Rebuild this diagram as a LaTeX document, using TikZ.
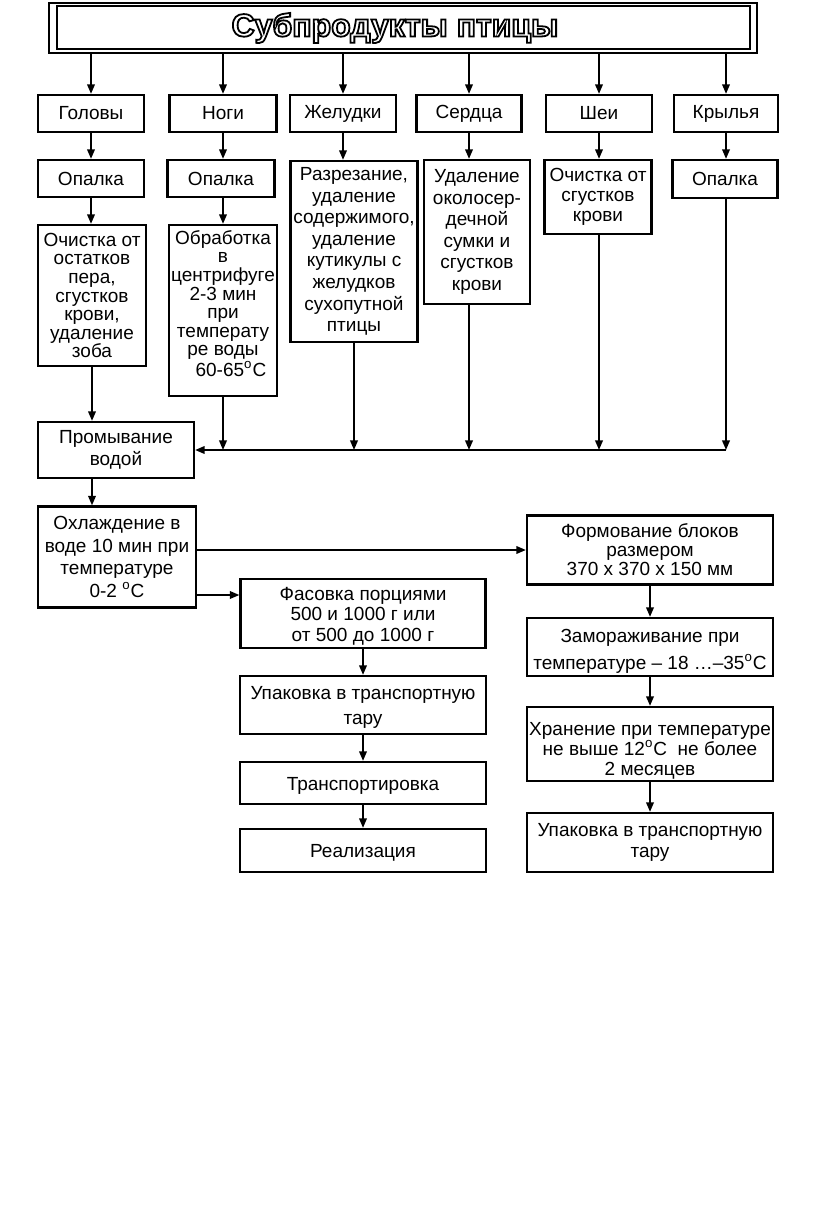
\documentclass[tikz,border=0pt]{standalone}
\usepackage{fontspec}
\setmainfont{Liberation Sans}
\usetikzlibrary{arrows.meta}

% hollow letters for the heading
\newcommand\hollow[1]{\special{pdf:literal direct 1 Tr 0.9 w}#1\special{pdf:literal direct 0 Tr}}
\newcommand\topgap[1]{\rule{0pt}{#1}}

\tikzset{%
   stage/.style={draw, line width=1.1pt, inner sep=0pt, align=center,
      font=\fontsize{9.5}{10}\selectfont},%
   wh/.style 2 args={minimum width=#1pt, minimum height=#2pt},%
   pitch/.style={font=\fontsize{9.5}{#1}\selectfont},%
   flow/.style={-{Triangle[length=4.8pt,width=3.8pt]}, line width=0.9pt},%
}

\begin{document}
\begin{tikzpicture}[x=0.5pt,y=-0.5pt]%
      \useasboundingbox (0,0) rectangle (816,1213);%
      % ~ title
      \node[draw, line width=1.3pt, wh={354}{25}] (title) at (403,28)
         {\hspace{-8pt}\fontsize{16}{16}\selectfont\bfseries\hollow{Субпродукты птицы}};
      \draw[line width=1.1pt] ([xshift=4.5pt,yshift=-2pt]title.north west)
         rectangle ([xshift=-4pt,yshift=2.5pt]title.south east);%
      % ~ first row
      \node[stage, wh={53}{18.5}] (golovy) at (91,113.5) {Головы};
      \node[stage, wh={53.5}{18.5}] (nogi) at (223,113.5) {Ноги};
      \node[stage, wh={53}{18.5}] (zheludki) at (343,113.5) {Желудки};
      \node[stage, wh={52.5}{18.5}] (serdca) at (469,113.5) {Сердца};
      \node[stage, wh={53}{18.5}] (shei) at (599,113.5) {Шеи};
      \node[stage, wh={52}{18.5}] (krylya) at (726,113.5) {Крылья};
      \foreach \n in {golovy,nogi,zheludki,serdca,shei,krylya}%
         {%
            \draw[flow] (title.south -| \n.north) -- (\n.north);%
         }%
      % ~ second row
      \node[stage, wh={53}{18.5}] (opalkaA) at (91,178.5) {Опалка};
      \node[stage, wh={53.5}{18.5}] (opalkaB) at (221,178.5) {Опалка};
      \node[stage, pitch=10.8, wh={63.5}{90.5}] (razrez) at (354,251.5)
         {Разрезание,\\удаление\\содержимого,\\удаление\\кутикулы с\\желудков\\сухопутной\\птицы};
      \node[stage, pitch=10.8, wh={53}{72}] (udalenie) at (477,232)
         {Удаление\\околосер-\\дечной\\сумки и\\сгустков\\крови};
      \node[stage, wh={53.5}{37}] (ochistkaB) at (598,197)
         {Очистка от\\сгустков\\крови};
      \node[stage, wh={52.5}{19}] (opalkaC) at (725,179) {Опалка};
      \foreach \a/\b in {golovy/opalkaA,nogi/opalkaB,zheludki/razrez,serdca/udalenie,shei/ochistkaB,krylya/opalkaC}%
         {%
            \draw[flow] (\a.south) -- (\a.south |- \b.north);%
         }%
      % ~ third row
      \node[stage, pitch=9.3, wh={54}{70.5}] (ochistkaA) at (92,295.5)
         {Очистка от\\остатков\\пера,\\сгустков\\крови,\\удаление\\зоба};
      \node[stage, pitch=9.3, wh={54}{85.5}] (obrabotka) at (223,310.5)
         {Обработка\\в\\центрифуге\\2-3 мин\\при\\температу\\ре воды\\\ \ \ 60-65\textsuperscript{o}C\rule[-7pt]{0pt}{7pt}};
      \draw[flow] (opalkaA.south) -- (opalkaA.south |- ochistkaA.north);%
      \draw[flow] (nogi.south |- opalkaB.south) -- (nogi.south |- obrabotka.north);%
      % ~ washing
      \node[stage, pitch=10.8, wh={78}{28}] (promyvanie) at (116,450)
         {Промывание\\водой};
      \draw[flow] (ochistkaA.south) -- (ochistkaA.south |- promyvanie.north);%
      \foreach \a/\b in {nogi/obrabotka,razrez/razrez,serdca/udalenie,shei/ochistkaB,krylya/opalkaC}%
         {%
            \draw[flow] (\a |- \b.south) -- (\a |- promyvanie.east);%
         }%
      \draw[flow] (krylya |- promyvanie.east) -- (promyvanie.east);%
      % ~ cooling
      \node[stage, pitch=11.3, wh={79}{50.5}] (ohlazhdenie) at (117,557)
         {Охлаждение в\\воде 10 мин при\\температуре\\0-2 \textsuperscript{o}C};
      \draw[flow] (ochistkaA.south |- promyvanie.south) -- (ochistkaA.south |- ohlazhdenie.north);%
      % ~ packing branch
      \node[stage, pitch=10.25, wh={122.5}{34.5}] (fasovka) at (363,613.5)
         {\topgap{9pt}Фасовка порциями\\500 и 1000 г или\\от 500 до 1000 г};
      \node[stage, pitch=12.5, wh={123}{29}] (upakovkaA) at (363,705)
         {\topgap{9pt}Упаковка в транспортную\\тару};
      \node[stage, wh={123}{21}] (transport) at (363,783) {\topgap{9pt}Транспортировка};
      \node[stage, wh={123}{21.5}] (realizaciya) at (363,850.5) {\topgap{9pt}Реализация};
      % ~ freezing branch
      \node[stage, pitch=9.5, wh={123}{34.5}] (formovanie) at (650,550)
         {Формование блоков\\размером\\370 x 370 x 150 мм};
      \node[stage, pitch=13.5, wh={123}{29}] (zamorazh) at (650,647)
         {\topgap{11pt}Замораживание при\\температуре – 18 …–35\textsuperscript{o}C};
      \node[stage, pitch=10, wh={123}{37}] (hranenie) at (650,744)
         {\topgap{13pt}Хранение при температуре\\не выше 12\textsuperscript{o}C\ \ не более\\2 месяцев};
      \node[stage, pitch=10.8, wh={123}{29.5}] (upakovkaB) at (650,842.5)
         {Упаковка в транспортную\\тару};
      % ~ connectors
      \coordinate (split) at ([yshift=-19pt]ohlazhdenie.east);%
      \draw[flow] (ohlazhdenie.east |- formovanie.west) -- (formovanie.west);%
      \draw[flow] (split) -- (split -| fasovka.west);%
      \foreach \a/\b in {fasovka/upakovkaA,upakovkaA/transport,transport/realizaciya,formovanie/zamorazh,zamorazh/hranenie,hranenie/upakovkaB}%
         {%
            \draw[flow] (\a.south) -- (\b.north);%
         }%
   \end{tikzpicture}
\end{document}
